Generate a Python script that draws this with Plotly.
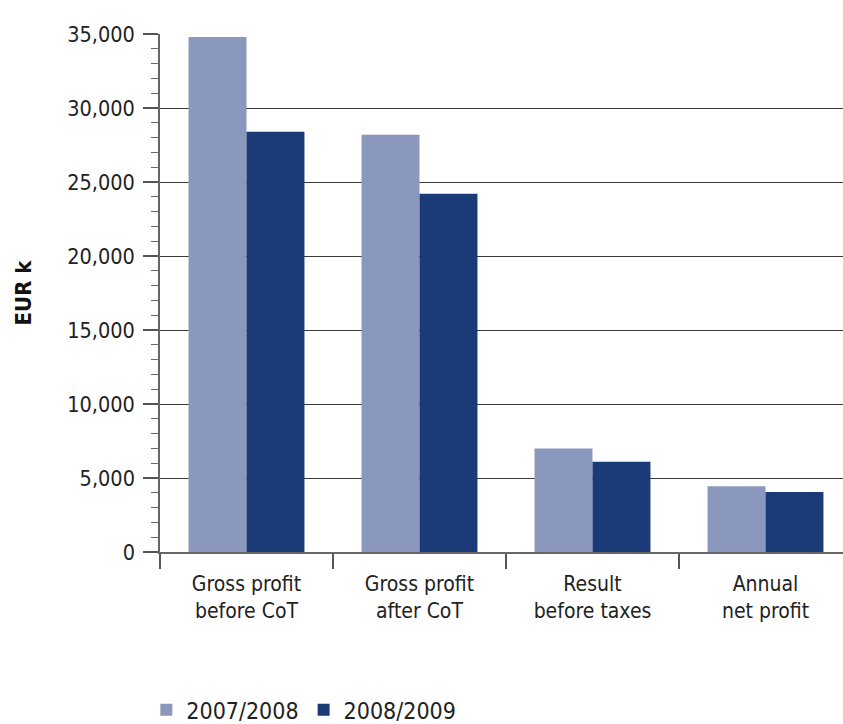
import plotly.graph_objects as go

categories = ["Gross profit<br>before CoT", "Gross profit<br>after CoT", "Result<br>before taxes", "Annual<br>net profit"]
series_names = ["2007/2008", "2008/2009"]
values_2007 = [34800, 28200, 7000, 4450]
values_2008 = [28400, 24200, 6100, 4050]
y_tick_vals = [0, 5000, 10000, 15000, 20000, 25000, 30000, 35000]
y_tick_text = ["0", "5,000", "10,000", "15,000", "20,000", "25,000", "30,000", "35,000"]

FONT = "DejaVu Sans Condensed, DejaVu Sans, sans-serif"
LIGHT = "#8A98BD"
DARK = "#1B3A78"

fig = go.Figure()
fig.add_trace(go.Bar(x=categories, y=values_2007, name=series_names[0], marker=dict(color=LIGHT, line=dict(width=0))))
fig.add_trace(go.Bar(x=categories, y=values_2008, name=series_names[1], marker=dict(color=DARK, line=dict(width=0))))

fig.update_layout(
    width=843, height=724, autosize=False,
    margin=dict(l=160, r=0, t=34, b=172, pad=0, autoexpand=False),
    paper_bgcolor="white", plot_bgcolor="white",
    barmode="group", bargap=0.33, bargroupgap=0,
    font=dict(family=FONT, color="#222222", size=21),
    showlegend=True,
    legend=dict(orientation="h", x=-0.02, xanchor="left", y=-0.346, yanchor="bottom",
                font=dict(size=23, family=FONT, color="#222222"), traceorder="normal",
                itemwidth=30, tracegroupgap=0),
    xaxis=dict(
        range=[-0.5, 3.448], showgrid=False, showline=True, linecolor="#666666", linewidth=1.5,
        ticks="outside", tickson="boundaries", ticklen=15, tickcolor="#555555", tickwidth=1.5,
        tickfont=dict(size=21, family=FONT, color="#222222"), ticklabelstandoff=12,
        zeroline=False, fixedrange=True, automargin=False,
    ),
    yaxis=dict(
        range=[0, 35000], tickvals=y_tick_vals, ticktext=y_tick_text,
        showgrid=True, gridcolor="#3a3a3a", gridwidth=1.2,
        showline=True, linecolor="#666666", linewidth=1.5,
        ticks="outside", ticklen=15, tickcolor="#555555", tickwidth=1.5,
        minor=dict(dtick=1000, ticks="outside", ticklen=7, tickcolor="#666666", tickwidth=1.2, showgrid=False),
        tickfont=dict(size=21.5, family=FONT, color="#222222"), ticklabelstandoff=4,
        zeroline=False, automargin=False,
        title=dict(text="<b>EUR k</b>", font=dict(size=22, family=FONT, color="#111111"), standoff=30),
    ),
)

fig.write_html("out.html")
